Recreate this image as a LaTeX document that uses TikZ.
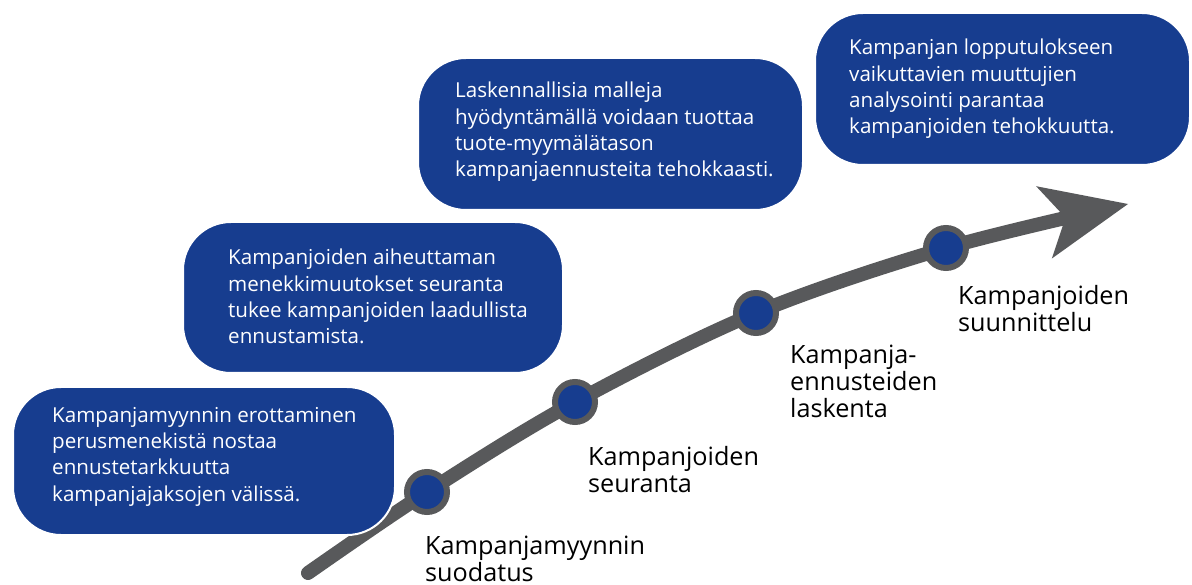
\documentclass[tikz,border=0pt]{standalone}
\usepackage{fontspec}
\setmainfont{Open Sans}
\usetikzlibrary{arrows.meta}
\definecolor{boxblue}{RGB}{23,61,143}
\definecolor{arrgray}{RGB}{88,89,91}
\begin{document}
\begin{tikzpicture}[x=1pt,y=-1pt,
 bubble/.style={rectangle, rounded corners=48pt, fill=boxblue, draw=white, line width=2pt, inner sep=0pt},
 bubbletext/.style={anchor=north west, inner sep=0pt, align=left, text=white, font=\fontsize{20.6}{26.3}\selectfont},
 milestone/.style={circle, fill=boxblue, draw=arrgray, line width=6pt, minimum size=40pt, inner sep=0pt},
 steplabel/.style={anchor=north west, inner sep=0pt, align=left, text=black, font=\fontsize{25.2}{27}\selectfont},
 timeline/.style={draw=arrgray, line width=14pt, line cap=round, -{Stealth[length=86pt,width=74pt,inset=22pt,line width=0pt]}},
]
\useasboundingbox (0,0) rectangle (1192,585);
% timeline coordinates
\coordinate (p0) at (308,573);
\coordinate (p1) at (427,492);
\coordinate (p2) at (575,402);
\coordinate (p3) at (756,313);
\coordinate (p4) at (946,248);
\coordinate (tip) at (1128,204);
\draw[timeline] plot[smooth, tension=0.55] coordinates {(p0) (p1) (p2) (p3) (p4) (tip)};
% bubbles
\node[bubble, minimum width=382pt, minimum height=148pt] (b1) at (204,461) {};
\node[bubble, minimum width=380pt, minimum height=151pt] (b2) at (373,297.5) {};
\node[bubble, minimum width=385pt, minimum height=152pt] (b3) at (610.5,134) {};
\node[bubble, minimum width=375pt, minimum height=152pt] (b4) at (1002.5,89) {};
\node[bubbletext] (t1) at (52,407) {Kampanjamyynnin erottaminen\\perusmenekistä nostaa\\ennustetarkkuutta\\kampanjajaksojen välissä.};
\node[bubbletext] (t2) at (228,249) {Kampanjoiden aiheuttaman\\menekkimuutokset seuranta\\tukee kampanjoiden laadullista\\ennustamista.};
\node[bubbletext] (t3) at (455,82) {Laskennallisia malleja\\hyödyntämällä voidaan tuottaa\\tuote-myymälätason\\kampanjaennusteita tehokkaasti.};
\node[bubbletext] (t4) at (849,39) {Kampanjan lopputulokseen\\vaikuttavien muuttujien\\analysointi parantaa\\kampanjoiden tehokkuutta.};
% milestones
\node[milestone] (m1) at (p1) {};
\node[milestone] (m2) at (p2) {};
\node[milestone] (m3) at (p3) {};
\node[milestone] (m4) at (p4) {};
% labels
\node[steplabel] (l1) at (425,536) {Kampanjamyynnin\\suodatus};
\node[steplabel] (l2) at (588,446) {Kampanjoiden\\seuranta};
\node[steplabel] (l3) at (790,345) {Kampanja-\\ennusteiden\\laskenta};
\node[steplabel] (l4) at (958,285) {Kampanjoiden\\suunnittelu};
\end{tikzpicture}
\end{document}
